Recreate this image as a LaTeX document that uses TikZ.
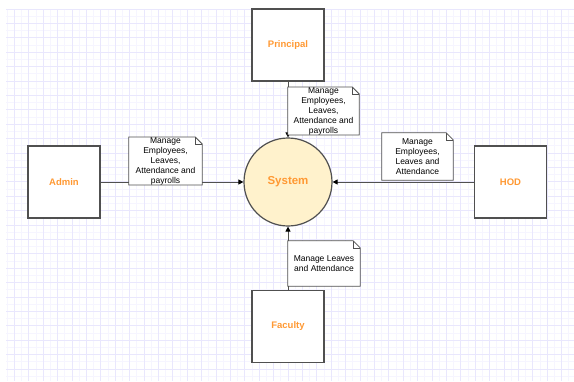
\documentclass[tikz,border=0pt]{standalone}
\usepackage{fontspec}
\setmainfont{Liberation Sans}
\usetikzlibrary{arrows.meta}
\definecolor{gridminor}{RGB}{246,245,255}
\definecolor{gridmajor}{RGB}{233,231,253}
\definecolor{labelorange}{RGB}{255,153,51}
\definecolor{sysfill}{RGB}{255,242,204}
\definecolor{edgegray}{RGB}{80,80,80}
\begin{document}
\begin{tikzpicture}[x=1pt,y=-1pt]
	\useasboundingbox (0,0) rectangle (574,381);
	% background grid
	\begin{scope}
	\clip (6,9) rectangle (574,381);
	\foreach \x in {0,7.2,...,580} \draw[gridminor,line width=0.8pt] (\x,0) -- (\x,381);
	\foreach \y in {1.8,9,...,390} \draw[gridminor,line width=0.8pt] (0,\y) -- (574,\y);
	\foreach \x in {0,14.4,...,580} \draw[gridmajor,line width=0.8pt] (\x,0) -- (\x,381);
	\foreach \y in {9,23.4,...,390} \draw[gridmajor,line width=0.8pt] (0,\y) -- (574,\y);
	\end{scope}
	% actors
	\begin{scope}[every node/.style={rectangle,draw=edgegray,line width=1.5pt,fill=white,
		minimum width=72pt,minimum height=72pt,text=labelorange,font=\fontsize{9.5}{11}\selectfont\bfseries}]
	\node (pr) at (288,45) {Principal};
	\node (ad) at (64,182) {Admin};
	\node (hod) at (510.5,182) {HOD};
	\node (fac) at (288,326.5) {Faculty};
	\end{scope}
	\node[circle,draw=edgegray,line width=1.2pt,fill=sysfill,minimum size=88pt,
		text=labelorange,font=\fontsize{11.5}{13}\selectfont\bfseries] (sys) at (288,182) {System};
	% flows
	\begin{scope}[every edge/.style={draw=edgegray,line width=1pt,-{Triangle[length=5pt,width=5pt,color=black]}}]
	\path (pr) edge (sys);
	\path (ad) edge (sys);
	\path (hod) edge (sys);
	\path (fac) edge (sys);
	\end{scope}
	% notes
	\begin{scope}[every node/.style={rectangle,fill=white,inner sep=0pt,align=center,
		font=\fontsize{8.5}{10}\selectfont}]
	\node[minimum width=71pt,minimum height=46pt] (npr) at (323.5,111) {Manage\\Employees,\\Leaves,\\Attendance and\\payrolls};
	\node[minimum width=73pt,minimum height=44pt] (nad) at (165.5,161) {Manage\\Employees,\\Leaves,\\Attendance and\\payrolls};
	\node[minimum width=71pt,minimum height=47pt] (nhod) at (417.5,156.5) {Manage\\Employees,\\Leaves and\\Attendance};
	\node[minimum width=72pt,minimum height=45pt] (nfac) at (324,263.5) {Manage Leaves\\and Attendance};
	\end{scope}
	\foreach \n in {npr,nad,nhod,nfac} {
		\draw[edgegray,line width=0.8pt] (\n.south west) -- (\n.north west) -- ([xshift=-7pt]\n.north east)
			-- ([yshift=-7pt]\n.north east) -- (\n.south east) -- cycle;
		\draw[edgegray,line width=0.6pt] ([xshift=-7pt]\n.north east) -- ([xshift=-7pt,yshift=-7pt]\n.north east)
			-- ([yshift=-7pt]\n.north east);
	}
\end{tikzpicture}
\end{document}
